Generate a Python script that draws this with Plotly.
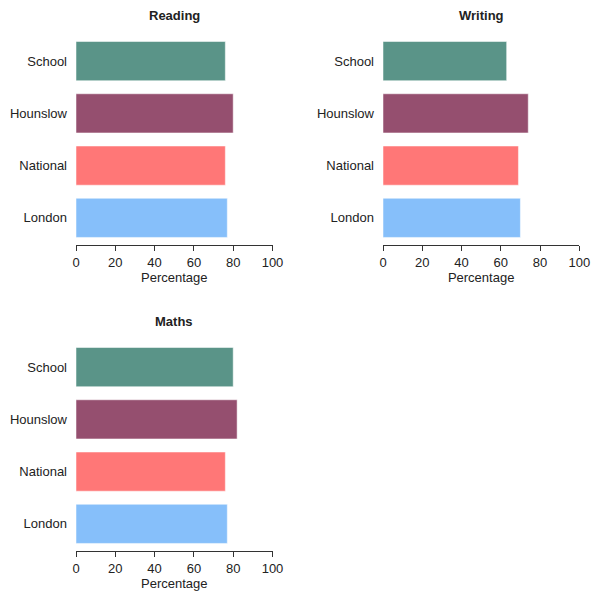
import plotly.graph_objects as go

categories = ["London", "National", "Hounslow", "School"]
colors = ["#86bffa", "#ff7777", "#954f6f", "#5a9488"]
reading = [77, 76, 80, 76]
writing = [70, 69, 74, 63]
maths = [77, 76, 82, 80]
titles = ["Reading", "Writing", "Maths"]
x_ticks = [0, 20, 40, 60, 80, 100]

W, H = 591, 594
FONT = "Liberation Sans, Arial"
fig = go.Figure()

panels = [
    (reading, "x", "y", (76, 272.5), (35, 245)),
    (writing, "x2", "y2", (383, 579.3), (35, 245)),
    (maths, "x3", "y3", (76, 272.5), (341, 551)),
]

layout = {}
for i, (vals, xa, ya, (x0, x1), (yt, yb)) in enumerate(panels):
    fig.add_trace(go.Bar(
        x=vals, y=categories, orientation="h", xaxis=xa, yaxis=ya,
        marker=dict(color=colors, line=dict(color="rgba(255,255,255,0.5)", width=1)),
        width=0.75, showlegend=False, hoverinfo="x+y",
    ))
    xn = "xaxis" if i == 0 else f"xaxis{i+1}"
    yn = "yaxis" if i == 0 else f"yaxis{i+1}"
    layout[xn] = dict(
        domain=[x0 / W, x1 / W], range=[0, 100], anchor=ya, automargin=False,
        tickvals=x_ticks, ticks="outside", ticklen=5, tickcolor="#333",
        showline=True, linecolor="#333", linewidth=1.3, showgrid=False, zeroline=False,
        tickfont=dict(family=FONT, size=13, color="#222"),
        ticklabeloverflow="allow",
        title=dict(text="Percentage", font=dict(family=FONT, size=13, color="#222"), standoff=2),
    )
    layout[yn] = dict(
        domain=[1 - yb / H, 1 - yt / H], range=[-0.52, 3.5], anchor=xa, automargin=False,
        type="category", showline=False, showgrid=False, ticks="", zeroline=False,
        tickfont=dict(family=FONT, size=13, color="#222"),
        ticklabelstandoff=8,
    )
    fig.add_annotation(
        text=f"<b>{titles[i]}</b>", xref="paper", yref="paper",
        x=(x0 + x1) / 2 / W, y=1 - (yt - 20) / H, showarrow=False,
        font=dict(family=FONT, size=13, color="#222"),
        xanchor="center", yanchor="middle",
    )

fig.update_layout(
    width=W, height=H, margin=dict(l=0, r=0, t=0, b=0, autoexpand=False),
    plot_bgcolor="white", paper_bgcolor="white", bargap=0.25,
    **layout,
)
fig.write_html(
    "out.html",
    config={"displayModeBar": False},
    post_script="document.body.style.margin='0';document.body.style.overflow='hidden';",
)
